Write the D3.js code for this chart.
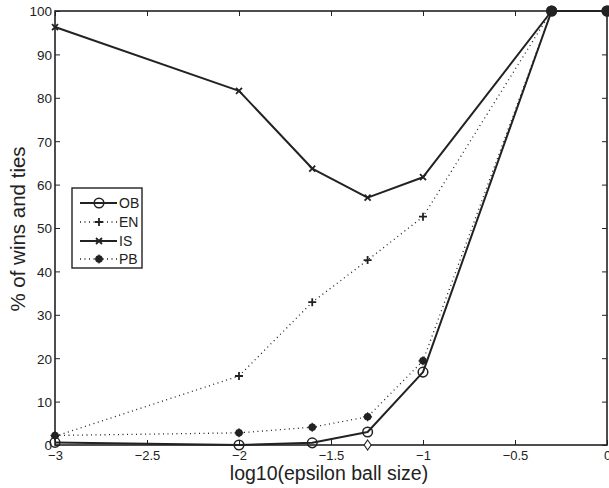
<!DOCTYPE html>
<html>
<head>
<meta charset="utf-8">
<script src="https://cdn.jsdelivr.net/npm/d3@7"></script>
<style>
  html, body { margin: 0; padding: 0; background: #fff; }
  svg { display: block; }
  text { font-family: "Liberation Sans", Arial, Helvetica, sans-serif; fill: #222; }
</style>
</head>
<body>
<script>
// log10 of the epsilon ball sizes 0.001, 0.01, 0.025, 0.05, 0.1, 0.5, 1
const epsilonLog = [-3, -2, -1.602, -1.301, -1, -0.301, 0];

// percentage of wins and ties per method
const obValues = [0.6, 0, 0.5, 3.0, 16.8, 100, 100];
const enValues = [2.0, 15.9, 32.9, 42.6, 52.6, 100, 100];
const isValues = [96.3, 81.6, 63.7, 57.0, 61.7, 100, 100];
const pbValues = [2.2, 2.8, 4.1, 6.5, 19.4, 100, 100];

// single extra marker on the axis
const diamondPoint = [-1.301, 0];

const xTicks = [-3, -2.5, -2, -1.5, -1, -0.5, 0];
const yTicks = [0, 10, 20, 30, 40, 50, 60, 70, 80, 90, 100];

const seriesNames = ["OB", "EN", "IS", "PB"];

const W = 609, H = 488;
const plotLeft = 55, plotRight = 607, plotTop = 11, plotBottom = 445;
const ink = "#222";

const svg = d3.select("body").append("svg").attr("width", W).attr("height", H);

const x = d3.scaleLinear().domain([-3, 0]).range([plotLeft, plotRight]);
const y = d3.scaleLinear().domain([0, 100]).range([plotBottom, plotTop]);

// axes with inward ticks on all four sides
const tickLen = 5;
const fmtX = d => d === 0 ? "0" : String(d).replace("-", "\u2212");
const gx = svg.append("g").attr("transform", `translate(0,${plotBottom})`)
  .call(d3.axisBottom(x).tickValues(xTicks).tickSize(-tickLen).tickFormat(fmtX));
const gxTop = svg.append("g").attr("transform", `translate(0,${plotTop})`)
  .call(d3.axisTop(x).tickValues(xTicks).tickSize(-tickLen).tickFormat(""));
const gy = svg.append("g").attr("transform", `translate(${plotLeft},0)`)
  .call(d3.axisLeft(y).tickValues(yTicks).tickSize(-tickLen).tickPadding(3).tickFormat(d3.format("d")));
const gyRight = svg.append("g").attr("transform", `translate(${plotRight},0)`)
  .call(d3.axisRight(y).tickValues(yTicks).tickSize(-tickLen).tickFormat(""));

[gx, gxTop, gy, gyRight].forEach(g => {
  g.select(".domain").remove();
  g.selectAll(".tick line").attr("stroke", ink).attr("stroke-width", 1);
  g.selectAll(".tick text").attr("font-size", 13.5).attr("fill", ink)
    .style("font-family", "'Liberation Sans', Arial, sans-serif");
});
gx.selectAll(".tick text").attr("y", 14.5).attr("dy", 0).attr("font-size", 13);
gy.selectAll(".tick text").attr("dy", "0.36em");

// plot frame
svg.append("rect")
  .attr("x", plotLeft).attr("y", plotTop)
  .attr("width", plotRight - plotLeft).attr("height", plotBottom - plotTop)
  .attr("fill", "none").attr("stroke", ink).attr("stroke-width", 1.6);

// axis titles
svg.append("text")
  .attr("x", 329).attr("y", 480)
  .attr("text-anchor", "middle").attr("font-size", 19.5)
  .text("log10(epsilon ball size)");
svg.append("text")
  .attr("transform", `translate(25,${229}) rotate(-90)`)
  .attr("text-anchor", "middle").attr("font-size", 20.5)
  .text("% of wins and ties");

// marker shapes
function drawMarker(g, kind, cx, cy) {
  if (kind === "OB") {
    g.append("circle").attr("cx", cx).attr("cy", cy).attr("r", 4.8)
      .attr("fill", "none").attr("stroke", ink).attr("stroke-width", 1.5);
  } else if (kind === "EN") {
    g.append("path").attr("d", `M${cx-4},${cy}H${cx+4}M${cx},${cy-4}V${cy+4}`)
      .attr("stroke", ink).attr("stroke-width", 1.8);
  } else if (kind === "IS") {
    g.append("path").attr("d", `M${cx-3},${cy-3}L${cx+3},${cy+3}M${cx-3},${cy+3}L${cx+3},${cy-3}`)
      .attr("stroke", ink).attr("stroke-width", 1.8);
  } else if (kind === "PB") {
    g.append("circle").attr("cx", cx).attr("cy", cy).attr("r", 3.8).attr("fill", ink);
    g.append("path").attr("d", `M${cx-4.5},${cy}H${cx+4.5}M${cx},${cy-4.5}V${cy+4.5}`)
      .attr("stroke", ink).attr("stroke-width", 1.2);
  } else if (kind === "PBbig") {
    g.append("circle").attr("cx", cx).attr("cy", cy).attr("r", 5.5).attr("fill", ink);
  }
}

const series = [
  { name: "OB", values: obValues, dash: null, width: 2 },
  { name: "EN", values: enValues, dash: "1,3.5", width: 1.3 },
  { name: "IS", values: isValues, dash: null, width: 2 },
  { name: "PB", values: pbValues, dash: "1,3.5", width: 1.3 }
];

const line = d3.line().x(d => x(d[0])).y(d => y(d[1]));

const plot = svg.append("g");
series.forEach(s => {
  const pts = epsilonLog.map((e, i) => [e, s.values[i]]);
  plot.append("path").datum(pts).attr("d", line)
    .attr("fill", "none").attr("stroke", ink)
    .attr("stroke-width", s.width)
    .attr("stroke-dasharray", s.dash)
    .attr("stroke-linejoin", "round");
});
series.forEach(s => {
  epsilonLog.forEach((e, i) => {
    const kind = (s.name === "PB" && s.values[i] === 100) ? "PBbig" : s.name;
    drawMarker(plot, kind, x(e), y(s.values[i]));
  });
});

// diamond marker centred on the x axis
const dx = x(diamondPoint[0]), dy = y(diamondPoint[1]);
plot.append("path")
  .attr("d", `M${dx},${dy-5}L${dx+3.5},${dy}L${dx},${dy+5}L${dx-3.5},${dy}Z`)
  .attr("fill", "#fff").attr("stroke", ink).attr("stroke-width", 1.1);

// legend
const lg = svg.append("g");
lg.append("rect").attr("x", 72).attr("y", 188).attr("width", 70).attr("height", 80)
  .attr("fill", "#fff").attr("stroke", ink).attr("stroke-width", 1.4);
const rowsY = [203, 222, 241, 259];
series.forEach((s, i) => {
  const ly = rowsY[i];
  lg.append("line").attr("x1", 80).attr("x2", 117).attr("y1", ly).attr("y2", ly)
    .attr("stroke", ink).attr("stroke-width", s.width).attr("stroke-dasharray", s.dash);
  drawMarker(lg, s.name, 99, ly);
  lg.append("text").attr("x", 119).attr("y", ly).attr("dy", "0.36em")
    .attr("font-size", 14).text(seriesNames[i]);
});
</script>
</body>
</html>
